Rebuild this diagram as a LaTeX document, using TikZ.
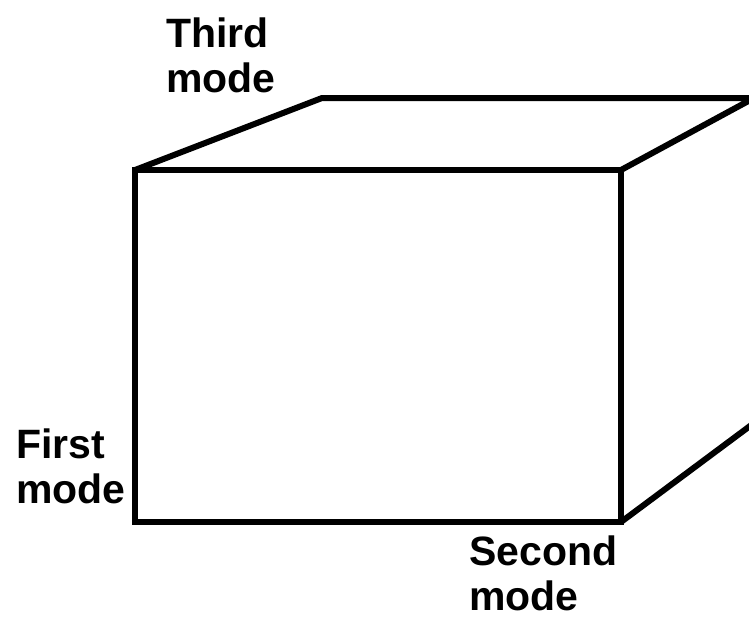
\documentclass[tikz,border=0pt]{standalone}
\usepackage{fontspec}
\setmainfont{Liberation Sans}
\begin{document}
\begin{tikzpicture}[x=1pt,y=-1pt,
  edge/.style={line width=6pt,line join=miter,black},
  lbl/.style={anchor=base west,align=left,inner sep=0pt,
    font=\fontsize{41}{45}\selectfont\bfseries}]
\useasboundingbox (0,0) rectangle (749,619);
\clip (0,0) rectangle (749,619);
\coordinate (A) at (135,170);
\coordinate (B) at (621,170);
\coordinate (C) at (621,522);
\coordinate (D) at (135,522);
\coordinate (E) at (322,98);
\coordinate (F) at (754,98);
\coordinate (G) at (754,423);
\draw[edge] (A) -- (B) -- (C) -- (D) -- cycle;
\draw[edge] (A) -- (E) -- (F) -- (B);
\draw[edge] (F) -- (G) -- (C);
\node[lbl] (third) at (166,92) {Third\\mode};
\node[lbl] (first) at (16,503) {First\\mode};
\node[lbl] (second) at (469,610) {Second\\mode};
\end{tikzpicture}
\end{document}
